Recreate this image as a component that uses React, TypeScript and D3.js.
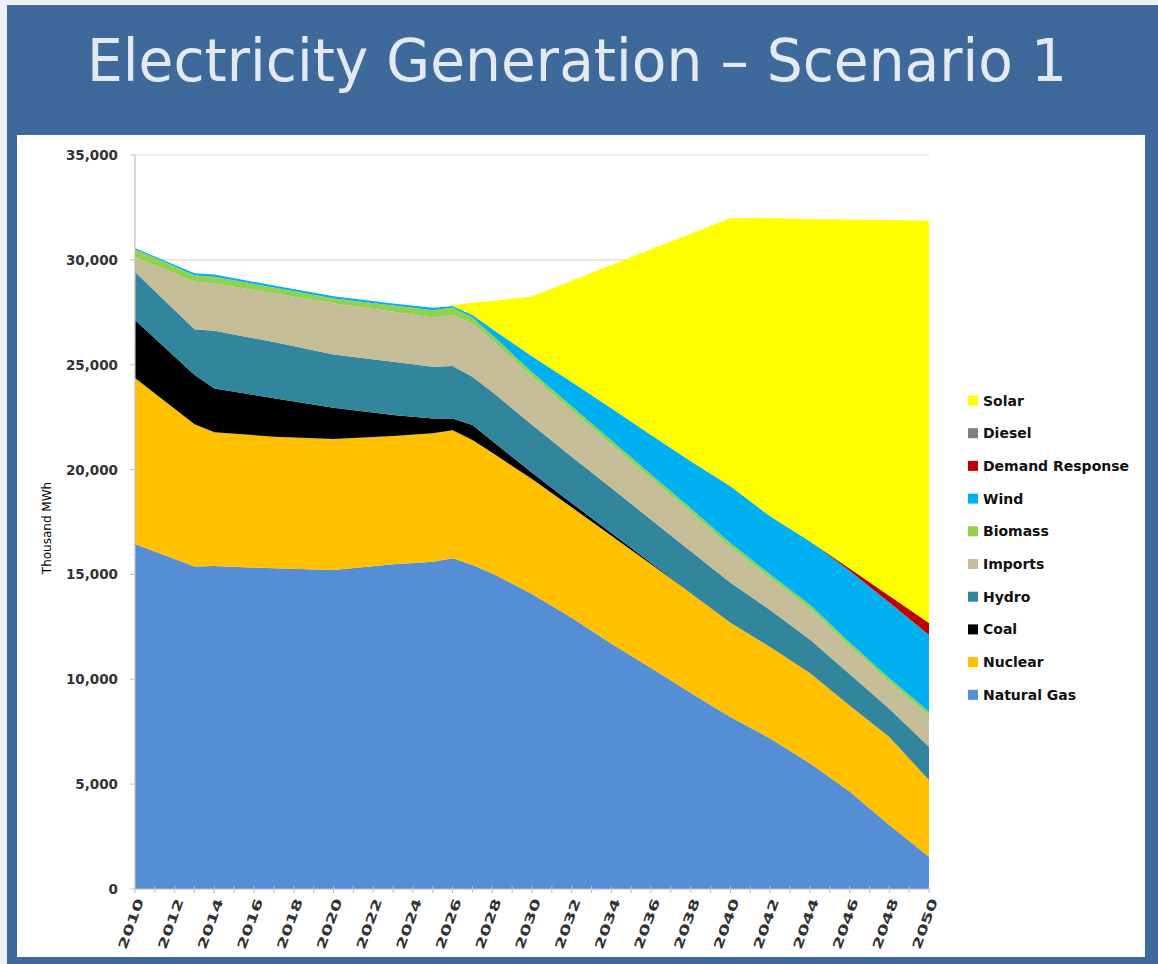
import React from "react";
import * as d3 from "d3";

// Years with readings (irregular spacing; the x scale is linear in year)
const years = [2010, 2013, 2014, 2017, 2020, 2023, 2025, 2026, 2027, 2028, 2030, 2032, 2034, 2036, 2038, 2040, 2042, 2044, 2046, 2048, 2050];

// Generation by source, thousand MWh
const naturalGas = [16450, 15380, 15400, 15290, 15210, 15480, 15610, 15770, 15450, 15050, 14070, 12940, 11700, 10540, 9350, 8200, 7180, 6000, 4650, 3050, 1540];
const nuclear = [7920, 6780, 6380, 6280, 6250, 6120, 6120, 6110, 5960, 5750, 5480, 5260, 5150, 4950, 4750, 4500, 4360, 4300, 4100, 4200, 3660];
const coal = [2760, 2350, 2090, 1830, 1490, 1000, 710, 560, 710, 560, 300, 200, 120, 50, 0, 0, 0, 0, 0, 0, 0];
const hydro = [2290, 2180, 2750, 2680, 2540, 2540, 2460, 2500, 2310, 2340, 2290, 2210, 2150, 2070, 2000, 1900, 1760, 1600, 1500, 1350, 1580];
const imports = [710, 2270, 2260, 2320, 2440, 2380, 2350, 2430, 2540, 2450, 2290, 2210, 2080, 1970, 1860, 1700, 1520, 1480, 1320, 1280, 1470];
const biomass = [380, 310, 320, 280, 230, 300, 350, 350, 280, 250, 210, 200, 190, 190, 190, 190, 180, 170, 180, 170, 200];
const wind = [50, 90, 100, 100, 110, 100, 120, 80, 120, 300, 760, 1150, 1540, 1880, 2250, 2710, 2770, 3030, 3430, 3610, 3660];
const demandResponse = [0, 0, 0, 0, 0, 0, 0, 0, 0, 0, 0, 0, 0, 0, 0, 0, 0, 0, 100, 320, 570];
const diesel = [0, 0, 0, 0, 0, 0, 0, 0, 0, 0, 0, 0, 0, 0, 0, 0, 0, 0, 0, 0, 0];
const solar = [0, 0, 0, 0, 0, 0, 0, 30, 580, 1350, 2850, 4830, 6820, 8850, 10850, 12800, 14210, 15370, 16650, 17920, 19190];

// Stack order, bottom to top
const seriesNames = ["Natural Gas", "Nuclear", "Coal", "Hydro", "Imports", "Biomass", "Wind", "Demand Response", "Diesel", "Solar"];
const seriesValues = [naturalGas, nuclear, coal, hydro, imports, biomass, wind, demandResponse, diesel, solar];
const seriesColors = ["#558ED5", "#FFC000", "#000000", "#31859C", "#C4BD97", "#92D050", "#00B0F0", "#C00000", "#7F7F7F", "#FFFF00"];

const yTicks = [0, 5000, 10000, 15000, 20000, 25000, 30000, 35000];
const xLabelYears = d3.range(2010, 2051, 2);
const xTickYears = d3.range(2010, 2051, 1);

const titleText = "Electricity Generation \u2013 Scenario 1";
const yAxisTitle = "Thousand MWh";

const W = 1158;
const H = 964;
const plot = { left: 135, right: 929, top: 155, bottom: 889 };
const font = "Tahoma, 'DejaVu Sans', Verdana, sans-serif";

export default function App() {
  const x = d3.scaleLinear().domain([2010, 2050]).range([plot.left, plot.right]);
  const y = d3.scaleLinear().domain([0, 35000]).range([plot.bottom, plot.top]);

  const table = years.map((yr, i) => {
    const row: Record<string, number> = { year: yr };
    seriesNames.forEach((name, k) => {
      row[name] = seriesValues[k][i];
    });
    return row;
  });

  const stacked = d3.stack<Record<string, number>>().keys(seriesNames)(table);

  const area = d3
    .area<d3.SeriesPoint<Record<string, number>>>()
    .x((d) => x(d.data.year))
    .y0((d) => y(d[0]))
    .y1((d) => y(d[1]));

  const fmt = d3.format(",");

  // Legend lists the top of the stack first
  const legendItems = seriesNames.map((n, i) => ({ name: n, color: seriesColors[i] })).reverse();

  return (
    <svg
      width={W}
      height={H}
      style={{ position: "absolute", left: 0, top: 0, display: "block" }}
    >
      <rect x={0} y={0} width={W} height={H} fill="#EEF1F5" />
      <rect x={7} y={5} width={W - 7} height={H - 5} fill="#3E6A9B" />
      <rect x={17} y={135} width={1128} height={822} fill="#FFFFFF" />

      <text
        x={87}
        y={81}
        fontFamily={font}
        fontSize={58}
        fill="#E4E9F1"
        textLength={980}
        lengthAdjust="spacingAndGlyphs"
      >
        {titleText}
      </text>

      {/* gridlines */}
      {yTicks.map((t) => (
        <line
          key={"g" + t}
          x1={plot.left}
          x2={plot.right}
          y1={y(t)}
          y2={y(t)}
          stroke="#D9D9D9"
          strokeWidth={1.2}
        />
      ))}

      {/* stacked areas */}
      {stacked.map((s, i) => (
        <path key={s.key} d={area(s) || ""} fill={seriesColors[i]} />
      ))}

      {/* axes */}
      <line x1={plot.left} x2={plot.left} y1={plot.top} y2={plot.bottom} stroke="#BFBFBF" strokeWidth={1.2} />
      <line x1={plot.left} x2={plot.right} y1={plot.bottom} y2={plot.bottom} stroke="#BFBFBF" strokeWidth={1.2} />
      {yTicks.map((t) => (
        <line key={"yt" + t} x1={plot.left - 5} x2={plot.left} y1={y(t)} y2={y(t)} stroke="#BFBFBF" />
      ))}
      {xTickYears.map((yr) => (
        <line key={"xt" + yr} x1={x(yr)} x2={x(yr)} y1={plot.bottom - 3} y2={plot.bottom + 4} stroke="#BFBFBF" />
      ))}

      {yTicks.map((t) => (
        <text
          key={"yl" + t}
          x={118}
          y={y(t) + 5}
          textAnchor="end"
          fontFamily={font}
          fontSize={13.5}
          fontWeight="bold"
          fill="#333"
        >
          {fmt(t)}
        </text>
      ))}

      <text
        transform={`translate(51,${(plot.top + plot.bottom) / 2 + 6}) rotate(-90)`}
        textAnchor="middle"
        fontFamily={font}
        fontSize={12}
        fill="#000"
      >
        {yAxisTitle}
      </text>

      {xLabelYears.map((yr) => (
        <text
          key={"xl" + yr}
          transform={`translate(${x(yr) + 5},${plot.bottom + 10}) rotate(-70)`}
          textAnchor="end"
          dy="0.35em"
          fontFamily={font}
          fontSize={12.5}
          fontWeight="bold"
          fill="#333"
          textLength={53}
          lengthAdjust="spacingAndGlyphs"
        >
          {yr}
        </text>
      ))}

      {/* legend */}
      {legendItems.map((it, i) => {
        const cy = 400.5 + i * 32.7;
        return (
          <g key={"lg" + it.name}>
            <rect x={968} y={cy - 5} width={10} height={10} fill={it.color} />
            <text
              x={983}
              y={cy + 5}
              fontFamily={font}
              fontSize={14}
              fontWeight="bold"
              fill="#111"
            >
              {it.name}
            </text>
          </g>
        );
      })}
    </svg>
  );
}
